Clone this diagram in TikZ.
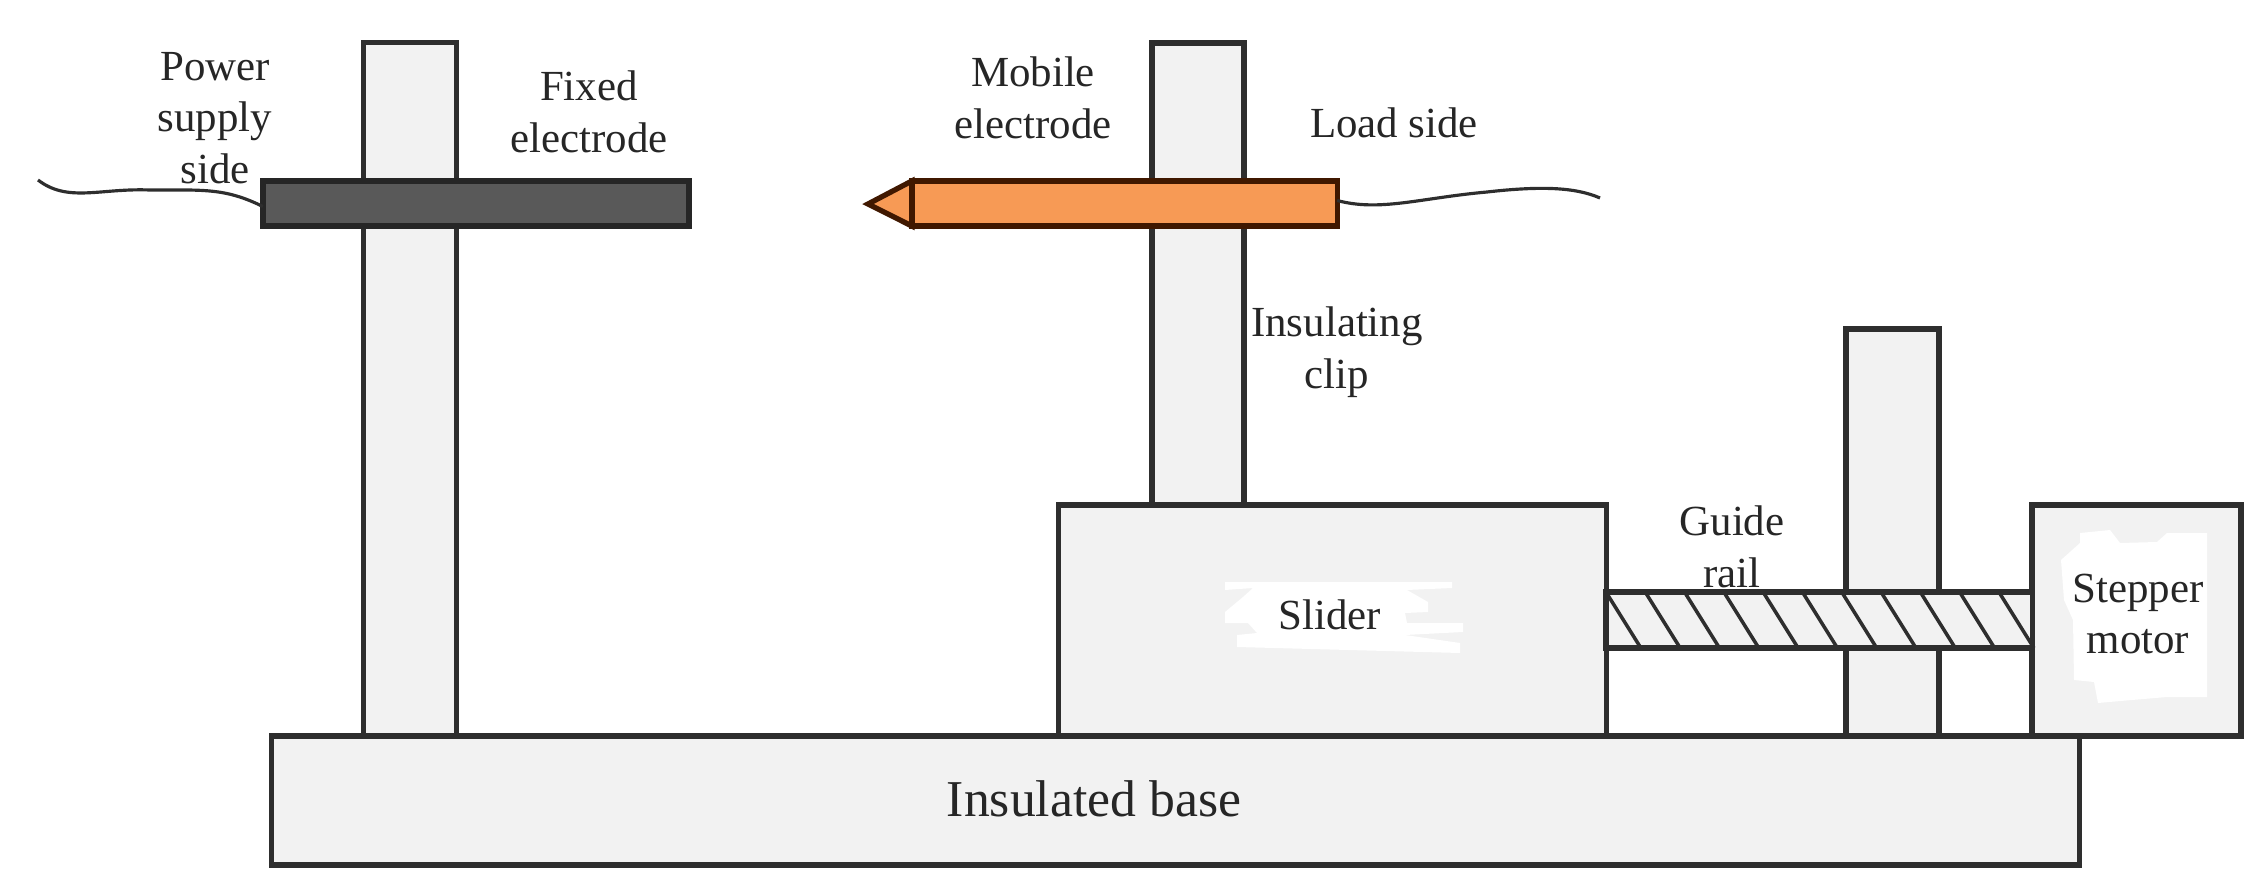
\documentclass[tikz,border=0pt]{standalone}
\usepackage{fontspec}
\setmainfont{Liberation Serif}
\usepackage{xcolor}
\usepackage{tikz}
\usetikzlibrary{calc,positioning}

\definecolor{partgray}{HTML}{F2F2F2}
\definecolor{fixeddark}{HTML}{595959}
\definecolor{mobileorange}{HTML}{F79A55}
\definecolor{mobileedge}{HTML}{401800}
\definecolor{edgedark}{HTML}{2E2E2E}

\tikzset{
  part/.style={draw=edgedark, fill=partgray, line width=1.5pt, inner sep=0pt, outer sep=0pt},
  wire/.style={draw=edgedark, line width=0.9pt},
  hatchline/.style={draw=edgedark, line width=1pt},
  labeltext/.style={align=center, inner sep=0pt, text=black!85, font=\fontsize{12.2}{14.7}\selectfont}
}

\begin{document}
\begin{tikzpicture}[x=0.01cm,y=-0.01cm]

\useasboundingbox (0,0) rectangle (2266,891);

\node[part, minimum width=0.93cm, minimum height=6.93cm] (pillarfixed) at (410,389.5) {};
\node[part, minimum width=0.92cm, minimum height=4.62cm] (pillarmobile) at (1198,274) {};
\node[part, minimum width=0.93cm, minimum height=4.07cm] (pillarrear) at (1892.5,532.5) {};

\node[part, minimum width=18.07cm, minimum height=1.29cm] (base) at (1175.5,800.5) {};
\node[part, minimum width=5.47cm, minimum height=2.31cm] (slider) at (1332.5,620.5) {};
\node[part, minimum width=2.09cm, minimum height=2.31cm] (motor) at (2136.5,620.5) {};
\node[part, minimum width=4.26cm, minimum height=0.56cm] (rail) at (1819,620) {};

\foreach \i in {0,...,10}
  \draw[hatchline] ($(rail.north west)+(39.3*\i,0)$) -- ($(rail.south west)+(35+39.3*\i,0)$);

\fill[white] (1225,582) -- (1452,582) -- (1452,588) -- (1407,590) -- (1428,602) -- (1428,612) -- (1405,613) -- (1407,623) -- (1463,623) -- (1463,632) -- (1405,635) -- (1460,643) -- (1460,653) -- (1237,647) -- (1237,635) -- (1257,633) -- (1248,623) -- (1225,623) -- (1225,612) -- (1243,597) -- (1253,588) -- (1225,590) -- cycle;
\fill[white] (2080,533) -- (2110,530) -- (2120,543) -- (2157,542) -- (2167,533) -- (2207,533) -- (2207,620) -- (2207,697) -- (2167,697) -- (2132,700) -- (2098,703) -- (2094,682) -- (2074,680) -- (2073,620) -- (2064,600) -- (2061,560) -- (2080,543) -- cycle;

\node[part, fill=fixeddark, draw=black!85, minimum width=4.26cm, minimum height=0.45cm] (fixedel) at (476,203.5) {};

\coordinate (tip) at (868,204);
\node[part, fill=mobileorange, draw=mobileedge, minimum width=4.25cm, minimum height=0.45cm] (mobileel) at (1124.5,203.5) {};
\draw[part, fill=mobileorange, draw=mobileedge] (mobileel.north west) -- (tip) -- (mobileel.south west) -- cycle;

\coordinate (wirefixed) at (38,180);
\coordinate (wiremobile) at (1600,198);
\draw[wire] (wirefixed) .. controls (68,203) and (100,188) .. (150,190) .. controls (205,190) and (225,188) .. ($(fixedel.west)+(0,3)$);
\draw[wire] ($(mobileel.east)+(0,-3)$) .. controls (1380,212) and (1420,198) .. (1487,192) .. controls (1540,186) and (1575,187) .. (wiremobile);

\node[labeltext] (powerlabel) at (215,118) {Power\\supply\\side};
\node[labeltext] (fixedlabel) at (589,112) {Fixed\\electrode};
\node[labeltext] (mobilelabel) at (1033,98) {Mobile\\electrode};
\node[labeltext] (loadlabel) at (1394,123) {Load side};
\node[labeltext] (cliplabel) at (1337,352) {Insulating\\clip};
\node[labeltext] (raillabel) at (1732,547) {Guide\\rail};
\node[labeltext] (sliderlabel) at (1330,615) {Slider};
\node[labeltext] (motorlabel) at (2138,614) {Stepper\\motor};
\node[labeltext, font=\fontsize{14.7}{17}\selectfont] (baselabel) at (1094,799) {Insulated base};

\end{tikzpicture}
\end{document}
